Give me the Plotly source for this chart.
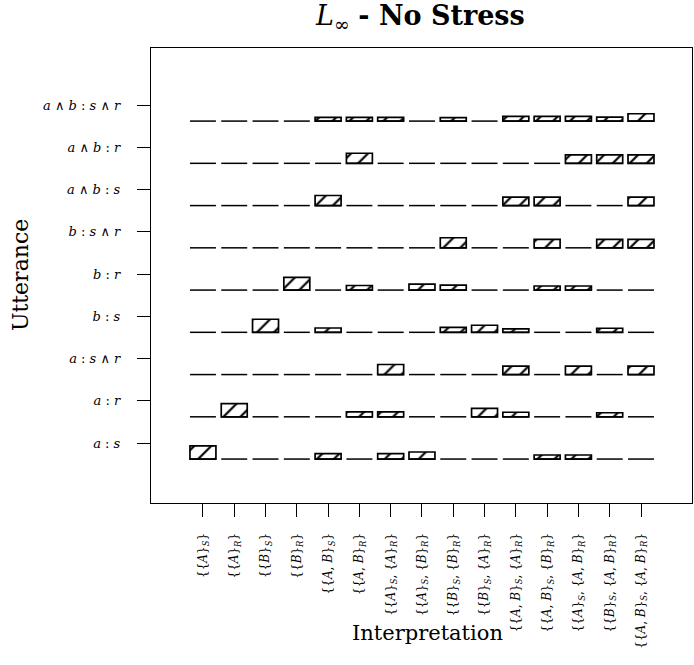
import plotly.graph_objects as go

# ---------------- data ----------------
interpretations = [
    "{{<i>A</i>}<sub><i>S</i></sub>}",
    "{{<i>A</i>}<sub><i>R</i></sub>}",
    "{{<i>B</i>}<sub><i>S</i></sub>}",
    "{{<i>B</i>}<sub><i>R</i></sub>}",
    "{{<i>A</i>, <i>B</i>}<sub><i>S</i></sub>}",
    "{{<i>A</i>, <i>B</i>}<sub><i>R</i></sub>}",
    "{{<i>A</i>}<sub><i>S</i></sub>, {<i>A</i>}<sub><i>R</i></sub>}",
    "{{<i>A</i>}<sub><i>S</i></sub>, {<i>B</i>}<sub><i>R</i></sub>}",
    "{{<i>B</i>}<sub><i>S</i></sub>, {<i>B</i>}<sub><i>R</i></sub>}",
    "{{<i>B</i>}<sub><i>S</i></sub>, {<i>A</i>}<sub><i>R</i></sub>}",
    "{{<i>A</i>, <i>B</i>}<sub><i>S</i></sub>, {<i>A</i>}<sub><i>R</i></sub>}",
    "{{<i>A</i>, <i>B</i>}<sub><i>S</i></sub>, {<i>B</i>}<sub><i>R</i></sub>}",
    "{{<i>A</i>}<sub><i>S</i></sub>, {<i>A</i>, <i>B</i>}<sub><i>R</i></sub>}",
    "{{<i>B</i>}<sub><i>S</i></sub>, {<i>A</i>, <i>B</i>}<sub><i>R</i></sub>}",
    "{{<i>A</i>, <i>B</i>}<sub><i>S</i></sub>, {<i>A</i>, <i>B</i>}<sub><i>R</i></sub>}",
]

utterances = [
    "<i>a</i> : <i>s</i>",
    "<i>a</i> : <i>r</i>",
    "<i>a</i> : <i>s</i> ∧ <i>r</i>",
    "<i>b</i> : <i>s</i>",
    "<i>b</i> : <i>r</i>",
    "<i>b</i> : <i>s</i> ∧ <i>r</i>",
    "<i>a</i> ∧ <i>b</i> : <i>s</i>",
    "<i>a</i> ∧ <i>b</i> : <i>r</i>",
    "<i>a</i> ∧ <i>b</i> : <i>s</i> ∧ <i>r</i>",
]

# relative bar heights (1 = tallest), one list per utterance, 15 interpretations each
row_a_s      = [1.00, 0, 0, 0, 0.42, 0, 0.42, 0.54, 0, 0, 0, 0.31, 0.31, 0, 0]
row_a_r      = [0, 1.00, 0, 0, 0, 0.38, 0.38, 0, 0, 0.65, 0.35, 0, 0, 0.31, 0]
row_a_sr     = [0, 0, 0, 0, 0, 0, 0.77, 0, 0, 0, 0.64, 0, 0.64, 0, 0.64]
row_b_s      = [0, 0, 1.00, 0, 0.33, 0, 0, 0, 0.38, 0.54, 0.27, 0, 0, 0.31, 0]
row_b_r      = [0, 0, 0, 0.97, 0, 0.35, 0, 0.46, 0.38, 0, 0, 0.31, 0.31, 0, 0]
row_b_sr     = [0, 0, 0, 0, 0, 0, 0, 0, 0.77, 0, 0, 0.64, 0, 0.64, 0.64]
row_ab_s     = [0, 0, 0, 0, 0.77, 0, 0, 0, 0, 0, 0.64, 0.64, 0, 0, 0.64]
row_ab_r     = [0, 0, 0, 0, 0, 0.77, 0, 0, 0, 0, 0, 0, 0.64, 0.64, 0.64]
row_ab_sr    = [0, 0, 0, 0, 0.28, 0.28, 0.28, 0, 0.27, 0, 0.36, 0.36, 0.36, 0.31, 0.56]

rows = [row_a_s, row_a_r, row_a_sr, row_b_s, row_b_r, row_b_sr,
        row_ab_s, row_ab_r, row_ab_sr]

# ---------------- layout constants ----------------
BASE_OFFSET = 0.38   # baseline of each row below its tick
BAR_MAX = 0.31       # tallest bar in row units
BAR_W = 0.83
FONT = "DejaVu Serif"

xs, bases, heights = [], [], []
lx, ly = [], []
for i, row in enumerate(rows):
    for j, v in enumerate(row):
        x = j + 1
        lx += [x - BAR_W / 2, x + BAR_W / 2, None]
        ly += [i - BASE_OFFSET, i - BASE_OFFSET, None]
        if v > 0:
            xs.append(x)
            bases.append(i - BASE_OFFSET)
            heights.append(v * BAR_MAX)

fig = go.Figure()
fig.add_trace(go.Scatter(x=lx, y=ly, mode="lines",
                         line=dict(color="black", width=1.5),
                         hoverinfo="skip", showlegend=False))
fig.add_trace(go.Bar(x=xs, y=heights, base=bases, width=BAR_W,
                     marker=dict(color="white",
                                 line=dict(color="black", width=1.7),
                                 pattern=dict(shape="/", fgcolor="black",
                                              bgcolor="white", size=12,
                                              solidity=0.18, fgopacity=1)),
                     showlegend=False))

fig.update_layout(
    width=694, height=665,
    margin=dict(l=151, r=2, t=48, b=162),
    plot_bgcolor="white", paper_bgcolor="white",
    barmode="overlay",
    font=dict(family=FONT, color="black"),
    xaxis=dict(range=[-0.66, 16.63], tickvals=list(range(1, 16)),
               ticktext=interpretations, tickangle=-90,
               ticks="outside", ticklen=13, tickwidth=1.3, tickcolor="black",
               ticklabelstandoff=11,
               tickfont=dict(size=12, family=FONT),
               showline=True, linecolor="black", linewidth=1.3, mirror=True,
               showgrid=False, zeroline=False, fixedrange=True),
    yaxis=dict(range=[-1.42, 9.35], tickvals=list(range(9)),
               ticktext=utterances,
               ticks="outside", ticklen=13, tickwidth=1.3, tickcolor="black",
               ticklabelstandoff=14,
               tickfont=dict(size=13, family=FONT),
               showline=True, linecolor="black", linewidth=1.3, mirror=True,
               showgrid=False, zeroline=False, fixedrange=True),
    annotations=[
        dict(text="<i>L</i><sub>∞</sub> <b>- No Stress</b>", xref="paper", yref="paper",
             x=0.497, y=1.066, xanchor="center", yanchor="middle",
             showarrow=False, font=dict(size=27, family=FONT)),
        dict(text="Interpretation", xref="paper", yref="paper",
             x=0.512, y=-0.286, xanchor="center", yanchor="middle",
             showarrow=False, font=dict(size=21, family=FONT)),
        dict(text="Utterance", xref="paper", yref="paper",
             x=-0.242, y=0.501, xanchor="center", yanchor="middle",
             textangle=-90, showarrow=False, font=dict(size=22, family=FONT)),
    ],
)

fig.write_html("out.html")
